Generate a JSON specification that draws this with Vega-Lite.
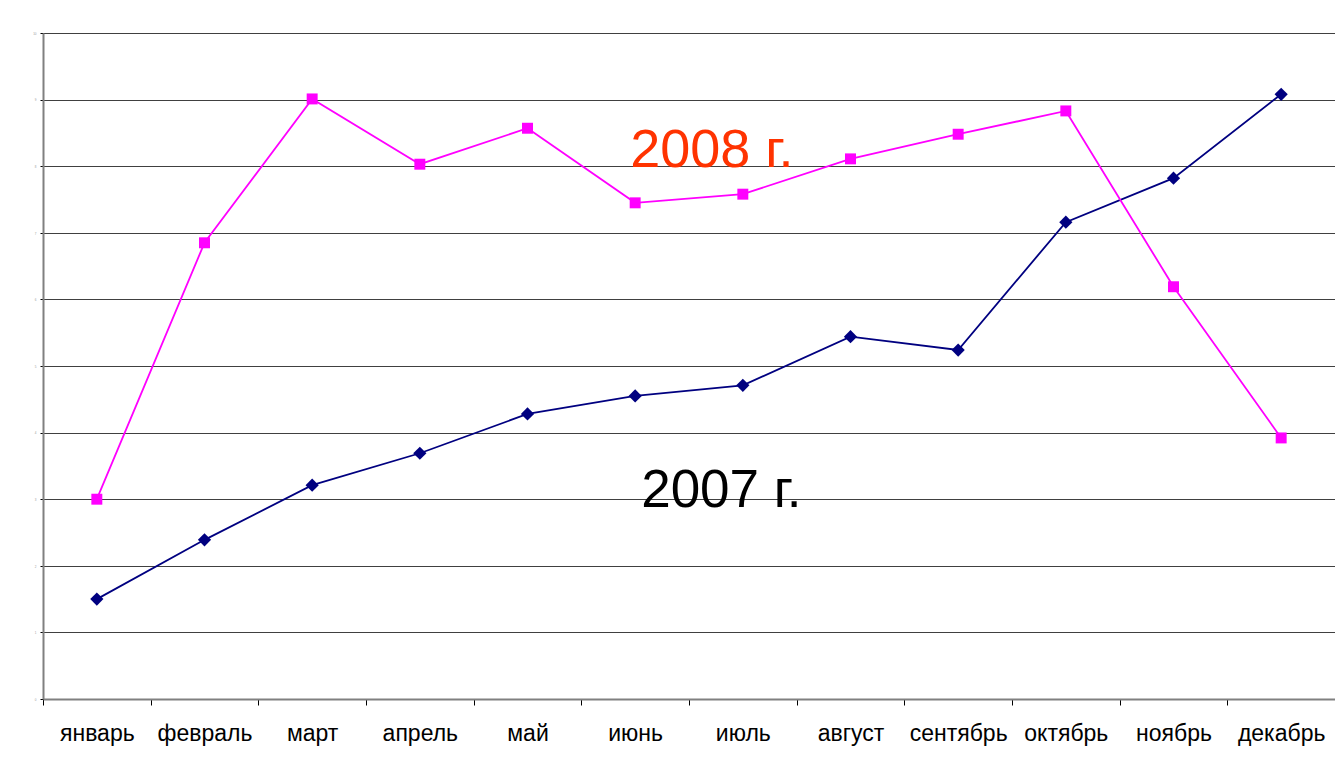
{
  "$schema": "https://vega.github.io/schema/vega-lite/v6.json",
  "autosize": {"type": "none"},
  "width": 1292,
  "height": 666,
  "padding": {"left": 43, "top": 33, "right": 0, "bottom": 71},
  "background": "white",
  "config": {
    "font": "Liberation Sans",
    "view": {"stroke": null}
  },
  "datasets": {
    "series": [
      {"month": "январь", "series": "2007", "value": 1.50},
      {"month": "февраль", "series": "2007", "value": 2.39},
      {"month": "март", "series": "2007", "value": 3.21},
      {"month": "апрель", "series": "2007", "value": 3.69},
      {"month": "май", "series": "2007", "value": 4.28},
      {"month": "июнь", "series": "2007", "value": 4.55},
      {"month": "июль", "series": "2007", "value": 4.71},
      {"month": "август", "series": "2007", "value": 5.44},
      {"month": "сентябрь", "series": "2007", "value": 5.24},
      {"month": "октябрь", "series": "2007", "value": 7.16},
      {"month": "ноябрь", "series": "2007", "value": 7.82},
      {"month": "декабрь", "series": "2007", "value": 9.08},
      {"month": "январь", "series": "2008", "value": 3.00},
      {"month": "февраль", "series": "2008", "value": 6.85},
      {"month": "март", "series": "2008", "value": 9.01},
      {"month": "апрель", "series": "2008", "value": 8.03},
      {"month": "май", "series": "2008", "value": 8.57},
      {"month": "июнь", "series": "2008", "value": 7.45},
      {"month": "июль", "series": "2008", "value": 7.58},
      {"month": "август", "series": "2008", "value": 8.11},
      {"month": "сентябрь", "series": "2008", "value": 8.48},
      {"month": "октябрь", "series": "2008", "value": 8.83},
      {"month": "ноябрь", "series": "2008", "value": 6.19},
      {"month": "декабрь", "series": "2008", "value": 3.92}
    ],
    "label2008": [
      {"month": "июнь", "value": 7.99, "label": "2008 г."}
    ],
    "label2007": [
      {"month": "июнь", "value": 2.88, "label": "2007 г."}
    ]
  },
  "encoding": {
    "x": {
      "field": "month", "type": "nominal",
      "sort": ["январь","февраль","март","апрель","май","июнь","июль","август","сентябрь","октябрь","ноябрь","декабрь"],
      "scale": {"paddingInner": 0, "paddingOuter": 0},
      "axis": {
        "title": null, "labelAngle": 0, "labelFontSize": 23, "labelColor": "#000",
        "labelPadding": 17, "tickBand": "extent", "tickSize": 6, "tickColor": "#000",
        "tickWidth": 1, "domainColor": "#808080", "domainWidth": 2, "grid": false
      }
    },
    "y": {
      "field": "value", "type": "quantitative",
      "scale": {"domain": [0, 10], "nice": false},
      "axis": {
        "title": null, "values": [0,1,2,3,4,5,6,7,8,9,10],
        "labelFontSize": 3, "labelColor": "#999", "tickSize": 3, "tickColor": "#000",
        "labelPadding": 4,
        "domainColor": "#808080", "domainWidth": 2,
        "grid": true, "gridColor": "#000", "gridOpacity": 0.75, "gridWidth": 1
      }
    }
  },
  "layer": [
    {
      "data": {"name": "series"},
      "mark": {"type": "line", "strokeWidth": 1.8},
      "encoding": {
        "color": {
          "field": "series", "type": "nominal",
          "scale": {"domain": ["2007", "2008"], "range": ["#000080", "#FF00FF"]},
          "legend": null
        }
      }
    },
    {
      "data": {"name": "series"},
      "mark": {"type": "point", "filled": true, "opacity": 1},
      "encoding": {
        "color": {"field": "series", "type": "nominal", "legend": null},
        "shape": {
          "field": "series", "type": "nominal",
          "scale": {"domain": ["2007", "2008"], "range": ["diamond", "square"]},
          "legend": null
        },
        "size": {
          "field": "series", "type": "nominal",
          "scale": {"domain": ["2007", "2008"], "range": [175, 120]},
          "legend": null
        }
      }
    },
    {
      "data": {"name": "label2008"},
      "mark": {"type": "text", "align": "left", "baseline": "alphabetic", "fontSize": 54, "dx": -5, "color": "#FF3300"},
      "encoding": {
        "text": {"field": "label"}
      }
    },
    {
      "data": {"name": "label2007"},
      "mark": {"type": "text", "align": "left", "baseline": "alphabetic", "fontSize": 53, "dx": 6, "color": "#000000"},
      "encoding": {
        "text": {"field": "label"}
      }
    }
  ]
}
